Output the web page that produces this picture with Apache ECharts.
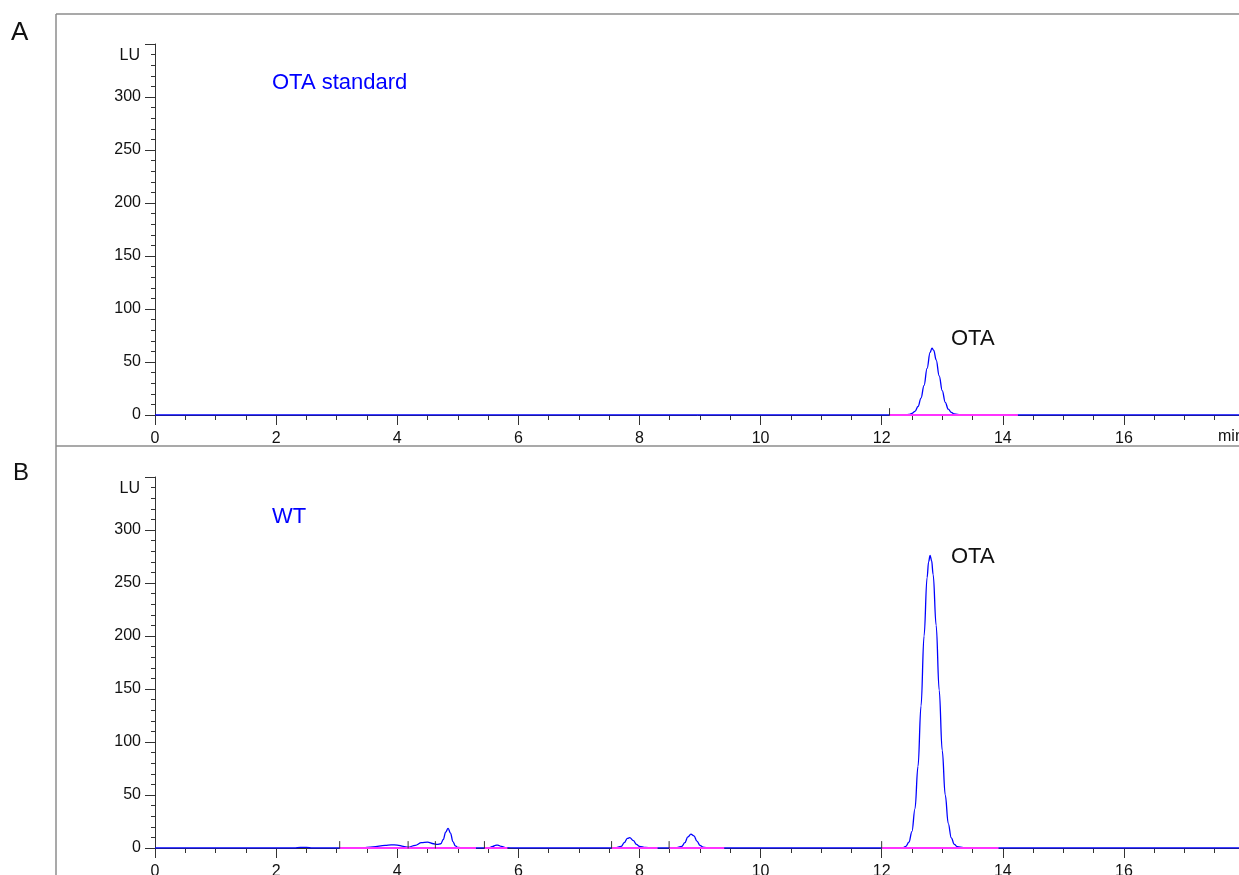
<!DOCTYPE html>
<html>
<head>
<meta charset="utf-8">
<title>OTA chromatograms</title>
<script src="https://cdn.jsdelivr.net/npm/echarts@6/dist/echarts.min.js"></script>
<style>
  html, body { margin: 0; padding: 0; background: #fff; }
  #chart { width: 1239px; height: 875px; }
</style>
</head>
<body>
<div id="chart"></div>
<script>
// retention time (min) / fluorescence signal (LU)
const timesA = [0, 12.40, 12.45, 12.50, 12.55, 12.60, 12.65, 12.70, 12.75, 12.80, 12.83, 12.86, 12.90, 12.95, 13.00, 13.05, 13.10, 13.15, 13.20, 13.30, 13.35, 18];
const valuesA = [0, 0, 0.5, 1.5, 3.5, 8, 16, 28, 44, 59, 63, 61, 52, 37, 23, 12, 5.5, 2.5, 1, 0.2, 0, 0];

const timesB = [0, 2.30, 2.40, 2.50, 2.60, 3.40, 3.60, 3.80, 3.90, 4.00, 4.10, 4.18, 4.30, 4.40, 4.50, 4.60, 4.66, 4.72, 4.76, 4.80, 4.84, 4.88, 4.92, 4.96, 5.00, 5.10,
  5.50, 5.58, 5.62, 5.66, 5.72, 5.80, 5.95,
  7.60, 7.70, 7.75, 7.80, 7.84, 7.90, 7.95, 8.00, 8.10, 8.20,
  8.60, 8.70, 8.75, 8.80, 8.85, 8.90, 8.95, 9.00, 9.05, 9.15,
  12.30, 12.35, 12.40, 12.45, 12.50, 12.55, 12.60, 12.65, 12.70, 12.75, 12.775, 12.80, 12.825, 12.85, 12.90, 12.95, 13.00, 13.05, 13.10, 13.15, 13.20, 13.25, 13.35, 13.50, 18];
const valuesB = [0, 0, 0.5, 0.5, 0, 0, 1, 2.5, 3, 2.8, 1.5, 0.8, 2.5, 5, 5.5, 4, 3.5, 4, 8, 15, 18.5, 14, 6, 2, 0.5, 0,
  0, 1.5, 2.5, 2.8, 1.5, 0.3, 0,
  0, 1.5, 5, 9, 9.7, 7, 3.5, 1.5, 0.5, 0,
  0, 1.5, 5, 10.5, 13, 11.5, 6.5, 2.5, 0.8, 0,
  0, 0.4, 1.6, 5.5, 15.5, 37, 77, 134, 200, 255, 270, 276, 271, 258, 210, 149, 92, 50, 23, 9.6, 3.4, 1.2, 0.3, 0, 0];

// integration baselines [start, end] and event marks (min)
const baselinesA = [[12.13, 14.25]];
const baselinesB = [[3.05, 5.30], [5.44, 5.82], [7.54, 8.30], [8.49, 9.40], [12.0, 13.93]];
const eventsA = [12.13];
const eventsB = [3.05, 4.18, 4.63, 5.44, 7.54, 8.49, 12.0];

const xMin = 0, xMax = 18, xStep = 2;
const yMin = 0, yMax = 350, yStep = 50;

const chart = echarts.init(document.getElementById('chart'));
const font = 'Liberation Sans, Arial, sans-serif';
const axisColor = '#333';

const makeX = (gridIndex) => ({
  type: 'value',
  gridIndex,
  min: xMin,
  max: xMax,
  interval: xStep,
  axisLine: { show: true, onZero: false, lineStyle: { color: axisColor, width: 1 } },
  axisTick: { show: true, inside: false, length: 10, lineStyle: { color: axisColor } },
  minorTick: { show: true, splitNumber: 4, length: 5, lineStyle: { color: axisColor } },
  splitLine: { show: false },
  axisLabel: {
    margin: 16, color: '#111', fontSize: 16, fontFamily: font,
    formatter: v => (v === xMax ? '' : String(v))
  }
});

const makeY = (gridIndex) => ({
  type: 'value',
  gridIndex,
  min: yMin,
  max: yMax,
  interval: yStep,
  axisLine: { show: true, lineStyle: { color: axisColor, width: 1 } },
  axisTick: { show: true, length: 10, lineStyle: { color: axisColor } },
  minorTick: { show: true, splitNumber: 5, length: 4, lineStyle: { color: axisColor } },
  splitLine: { show: false },
  axisLabel: {
    margin: 14, color: '#111', fontSize: 16, fontFamily: font,
    formatter: v => (v === yMax ? '' : String(v))
  }
});

const series = [];
const addPanel = (idx, times, values, baselines, events) => {
  series.push({
    type: 'line',
    xAxisIndex: idx, yAxisIndex: idx,
    data: times.map((t, i) => [t, values[i]]),
    showSymbol: false,
    smooth: 0.4,
    smoothMonotone: 'x',
    lineStyle: { color: '#0000ff', width: 1.3 },
    z: 2
  });
  baselines.forEach(b => {
    series.push({
      type: 'line',
      xAxisIndex: idx, yAxisIndex: idx,
      data: [[b[0], 0], [b[1], 0]],
      showSymbol: false,
      lineStyle: { color: '#ff33ff', width: 2 },
      z: 3
    });
  });
  events.forEach(t => {
    series.push({
      type: 'line',
      xAxisIndex: idx, yAxisIndex: idx,
      data: [[t, -1.5], [t, 6.5]],
      showSymbol: false,
      lineStyle: { color: '#333', width: 1 },
      z: 4
    });
  });
};
addPanel(0, timesA, valuesA, baselinesA, eventsA);
addPanel(1, timesB, valuesB, baselinesB, eventsB);

const txt = (x, y, text, size, color, align) => ({
  type: 'text', x, y, silent: true,
  style: { text, fontSize: size, fontFamily: font, fill: color, textAlign: align || 'left', textVerticalAlign: 'middle' }
});
const frame = { stroke: '#8c8c8c', lineWidth: 1.5 };

chart.setOption({
  animation: false,
  backgroundColor: '#fff',
  grid: [
    { left: 155, top: 44, width: 1090, height: 371, containLabel: false, outerBoundsMode: 'none' },
    { left: 155, top: 477, width: 1090, height: 371, containLabel: false, outerBoundsMode: 'none' }
  ],
  xAxis: [makeX(0), makeX(1)],
  yAxis: [makeY(0), makeY(1)],
  series,
  graphic: [
    { type: 'line', silent: true, shape: { x1: 56, y1: 14, x2: 1239, y2: 14 }, style: frame },
    { type: 'line', silent: true, shape: { x1: 56, y1: 14, x2: 56, y2: 875 }, style: frame },
    { type: 'line', silent: true, shape: { x1: 56, y1: 446, x2: 1239, y2: 446 }, style: frame },
    txt(11, 33, 'A', 26, '#111'),
    txt(13, 473, 'B', 24, '#111'),
    txt(140, 56, 'LU', 16, '#111', 'right'),
    txt(140, 489, 'LU', 16, '#111', 'right'),
    txt(272, 83, 'OTA standard', 22, '#0000ff'),
    txt(272, 517, 'WT', 22, '#0000ff'),
    txt(951, 339, 'OTA', 22, '#111'),
    txt(951, 557, 'OTA', 22, '#111'),
    txt(1218, 437, 'min', 16, '#111')
  ]
});
</script>
</body>
</html>
